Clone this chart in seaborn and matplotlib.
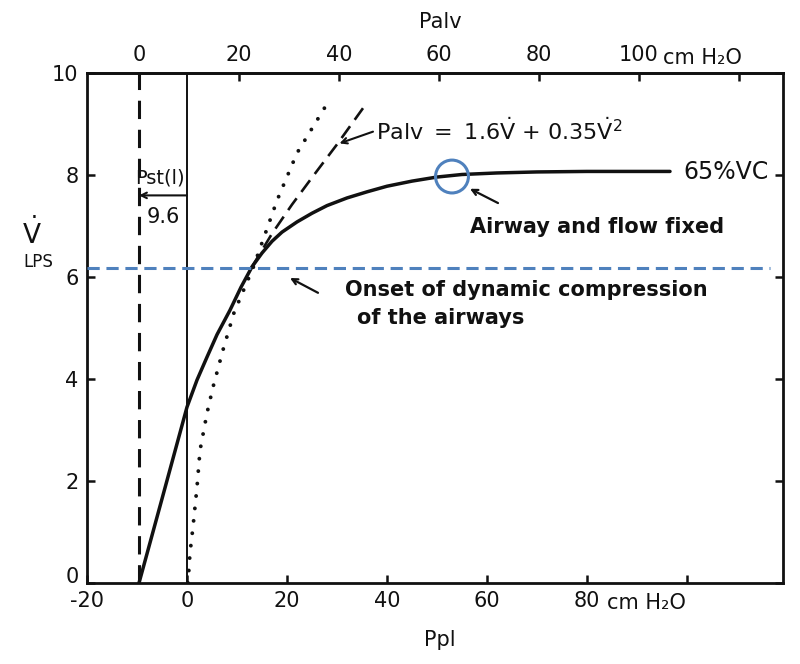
import numpy as np
import pandas as pd
import matplotlib
matplotlib.use('Agg')
import matplotlib.pyplot as plt
import matplotlib.transforms as mtransforms
import seaborn as sns

BLUE = '#4f81bd'
INK = '#111111'

# values: Ppl (cm H2O) vs flow V (L/s)
pst = 9.6
ppl_flow = [-9.6, -5.0, 0.0, 2.0, 4.0, 6.0, 8.6, 10.8, 13.0, 15.0, 17.0, 19.0, 22.0, 25.0,
            28.0, 32.0, 36.0, 40.0, 45.0, 50.0, 55.0, 62.0, 70.0, 80.0, 96.6]
v_flow = [0.0, 1.65, 3.45, 3.98, 4.43, 4.87, 5.35, 5.8, 6.2, 6.47, 6.7, 6.88, 7.08, 7.25,
          7.4, 7.55, 7.67, 7.78, 7.88, 7.96, 8.01, 8.04, 8.06, 8.07, 8.07]

# Palv = 1.6V + 0.35V^2 (dashed)
ppl_palv = [13.0, 17.0, 21.0, 25.0, 30.0, 35.2]
v_palv = [6.2, 6.85, 7.42, 7.95, 8.6, 9.31]

# dotted curve
ppl_dot = [0.2, 0.6, 1.2, 2.0, 2.6, 4.0, 5.2, 7.2, 9.4, 13.3, 18.0, 22.0, 27.6]
v_dot = [0.0, 0.59, 1.1, 1.88, 2.6, 3.33, 3.84, 4.57, 5.3, 6.2, 7.5, 8.43, 9.33]

onset_v = 6.18
fixed_ppl, fixed_v = 53.0, 7.97

x_ticks = [-20, 0, 20, 40, 60, 80, 100]
x_labels = ['-20', '0', '20', '40', '60', '80', '']
palv_ticks = [0, 20, 40, 60, 80, 100, 120]
palv_labels = ['0', '20', '40', '60', '80', '100', '']
y_ticks = [0, 2, 4, 6, 8, 10]

sns.set_style('ticks')
plt.rcParams['font.family'] = ['DejaVu Sans']

fig = plt.figure(figsize=(8, 6.64), dpi=100)
ax = fig.add_axes([87/800, 1-583/664, (783-87)/800, (583-73)/664])

# vertical reference lines
ax.axvline(-pst, color=INK, lw=2.2, ls=(0, (6, 3.5)), zorder=2)
ax.axvline(0, color=INK, lw=1.4, zorder=2)

# curves
sns.lineplot(x=ppl_dot, y=v_dot, ax=ax, color=INK, lw=2.8, sort=False,
             estimator=None, linestyle=(0, (0.01, 3.2)), dash_capstyle='round')
sns.lineplot(x=ppl_palv, y=v_palv, ax=ax, color=INK, lw=1.9, sort=False,
             estimator=None, linestyle=(0, (5.5, 3)))
sns.lineplot(x=ppl_flow, y=v_flow, ax=ax, color=INK, lw=2.5, sort=False, estimator=None)

# onset of dynamic compression
ax.hlines(onset_v, -20, 116.5, color=BLUE, lw=2.2, linestyles=(0, (4, 2.2)), zorder=4)
ax.scatter([fixed_ppl], [fixed_v], s=560, facecolors='none', edgecolors=BLUE,
           linewidths=2.2, zorder=5)

ax.set_xlim(-20, 119.2)
ax.set_ylim(0, 10)
ax.set_xticks(x_ticks)
ax.set_xticklabels(x_labels)
ax.set_yticks(y_ticks)
ax.set_xlabel('')
ax.set_ylabel('')
ax.tick_params(direction='in', length=6, width=1.8, labelsize=15, pad=6,
               top=False, right=True, colors=INK)
for sp in ax.spines.values():
    sp.set_visible(True)
    sp.set_linewidth(2)
    sp.set_color(INK)

# lift the y "0" label a little so it clears "-20"
lab0 = ax.get_yticklabels()[0]
lab0.set_transform(lab0.get_transform() + mtransforms.ScaledTranslation(0, 6/72, fig.dpi_scale_trans))

secax = ax.secondary_xaxis('top', functions=(lambda x: x + pst, lambda x: x - pst))
secax.set_xticks(palv_ticks)
secax.set_xticklabels(palv_labels)
secax.tick_params(direction='in', length=6, width=1.8, labelsize=15, pad=6, colors=INK)
secax.spines['top'].set_linewidth(2)

xt = ax.get_xaxis_transform()
ax.text(84, -0.039, 'cm H₂O', transform=xt, ha='left', va='center', fontsize=15, color=INK)
ax.text(95.2, 1.029, 'cm H₂O', transform=xt, ha='left', va='center', fontsize=15, color=INK)

fig.text(440/800, 1-22/664, 'Palv', ha='center', va='center', fontsize=15, color=INK)
fig.text(440/800, 1-640/664, 'Ppl', ha='center', va='center', fontsize=15, color=INK)
fig.text(32/800, 1-234/664, r'$\dot{\mathrm{V}}$', ha='center', va='center', fontsize=19, color=INK)
fig.text(38/800, 1-262/664, 'LPS', ha='center', va='center', fontsize=12, color=INK)

# Pst(l) bracket
ax.annotate('', xy=(-pst, 7.6), xytext=(0, 7.6),
            arrowprops=dict(arrowstyle='->', lw=1.5, color=INK, shrinkA=0, shrinkB=0))
ax.text(-5.5, 7.95, 'Pst(l)', ha='center', va='center', fontsize=14, color=INK)
ax.text(-4.8, 7.18, '9.6', ha='center', va='center', fontsize=15, color=INK)

# equation label
ax.annotate('', xy=(30.5, 8.62), xytext=(37.2, 8.85),
            arrowprops=dict(arrowstyle='->', lw=1.5, color=INK, shrinkA=0, shrinkB=0))
ax.text(37.8, 8.88, r'Palv $=$ 1.6$\dot{\mathrm{V}}$ + 0.35$\dot{\mathrm{V}}^2$',
        ha='left', va='center', fontsize=16, color=INK)
ax.text(99.2, 8.06, '65%VC', ha='left', va='center', fontsize=17, color=INK)

bold = dict(fontsize=15, fontweight='bold', family=['DejaVu Sans'], color=INK)
ax.annotate('', xy=(56.6, 7.73), xytext=(62.2, 7.45),
            arrowprops=dict(arrowstyle='->', lw=1.6, color=INK, shrinkA=0, shrinkB=0))
ax.text(56.6, 6.98, 'Airway and flow fixed', ha='left', va='center', **bold)
ax.annotate('', xy=(20.6, 5.98), xytext=(26.2, 5.69),
            arrowprops=dict(arrowstyle='->', lw=1.6, color=INK, shrinkA=0, shrinkB=0))
ax.text(31.6, 5.75, 'Onset of dynamic compression', ha='left', va='center', **bold)
ax.text(34.0, 5.2, 'of the airways', ha='left', va='center', **bold)

plt.savefig('out.png', dpi=100, facecolor='white')
plt.close()
